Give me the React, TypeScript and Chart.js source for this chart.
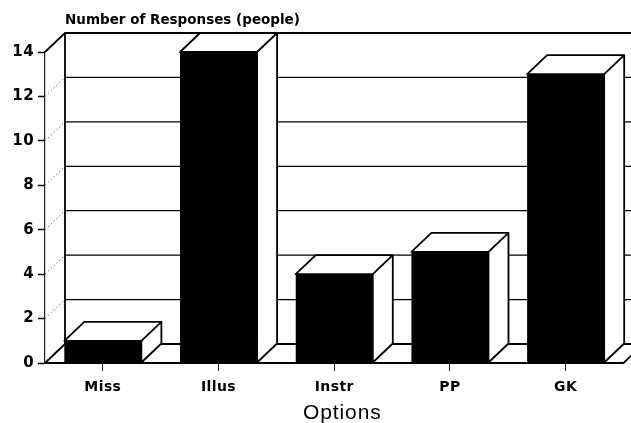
import React, { useEffect, useRef } from "react";
import { Chart, registerables } from "chart.js";

Chart.register(...registerables);

const categories = ["Miss", "Illus", "Instr", "PP", "GK"];
const responses = [1, 14, 4, 5, 13];
const yTitle = "Number of Responses (people)";
const xTitle = "Options";

const DEPTH_X = 20;
const DEPTH_Y = 19;
const INK = "#000";
const FONT = "'DejaVu Sans'";

const threeD = {
  id: "threeD",
  beforeDraw(chart: any) {
    chart.ctx.letterSpacing = "0.4px";
  },
  beforeDatasetsDraw(chart: any) {
    const { ctx, scales, chartArea, width } = chart;
    const y = scales.y;
    const left = chartArea.left;
    const top = y.getPixelForValue(14);
    const base = y.getPixelForValue(0);
    ctx.save();
    ctx.strokeStyle = INK;
    // dotted diagonals from the ticks to the back wall
    ctx.lineWidth = 1;
    ctx.setLineDash([1, 3]);
    ctx.strokeStyle = "#222";
    y.ticks.forEach((t: any) => {
      if (t.value === 0 || t.value === 14) return;
      const p = y.getPixelForValue(t.value);
      ctx.beginPath();
      ctx.moveTo(left, p);
      ctx.lineTo(left + DEPTH_X, p - DEPTH_Y);
      ctx.stroke();
    });
    ctx.setLineDash([]);
    ctx.strokeStyle = INK;
    // back wall grid lines
    y.ticks.forEach((t: any) => {
      if (t.value === 14) return;
      const p = y.getPixelForValue(t.value) - DEPTH_Y;
      ctx.lineWidth = t.value === 0 ? 1.8 : 1.3;
      ctx.beginPath();
      ctx.moveTo(left + DEPTH_X, p);
      ctx.lineTo(width, p);
      ctx.stroke();
    });
    // walls and outline
    ctx.lineWidth = 1.8;
    ctx.beginPath();
    ctx.moveTo(left, top);
    ctx.lineTo(left + DEPTH_X, top - DEPTH_Y);
    ctx.lineTo(width, top - DEPTH_Y);
    ctx.moveTo(left + DEPTH_X, top - DEPTH_Y);
    ctx.lineTo(left + DEPTH_X, base - DEPTH_Y);
    ctx.moveTo(left, base);
    ctx.lineTo(left + DEPTH_X, base - DEPTH_Y);
    ctx.moveTo(chartArea.right, base);
    ctx.lineTo(chartArea.right + DEPTH_X, base - DEPTH_Y);
    ctx.stroke();
    // extruded bar faces
    ctx.lineWidth = 1.8;
    ctx.lineJoin = "round";
    chart.getDatasetMeta(0).data.forEach((bar: any) => {
      const l = bar.x - bar.width / 2;
      const r = bar.x + bar.width / 2;
      const t = bar.y;
      const b = bar.base;
      ctx.fillStyle = "#fff";
      ctx.beginPath();
      ctx.moveTo(l, t);
      ctx.lineTo(l + DEPTH_X, t - DEPTH_Y);
      ctx.lineTo(r + DEPTH_X, t - DEPTH_Y);
      ctx.lineTo(r + DEPTH_X, b - DEPTH_Y);
      ctx.lineTo(r, b);
      ctx.lineTo(r, t);
      ctx.closePath();
      ctx.fill();
      ctx.stroke();
      ctx.beginPath();
      ctx.moveTo(r, t);
      ctx.lineTo(r + DEPTH_X, t - DEPTH_Y);
      ctx.stroke();
    });
    ctx.restore();
  },
  afterDraw(chart: any) {
    const { ctx } = chart;
    ctx.save();
    ctx.fillStyle = INK;
    ctx.textBaseline = "alphabetic";
    ctx.textAlign = "left";
    ctx.font = `bold 13.5px ${FONT}`;
    ctx.letterSpacing = "0px";
    ctx.fillText(yTitle, chart.chartArea.left + DEPTH_X, 24);
    ctx.font = "21px 'Liberation Sans'";
    ctx.letterSpacing = "0.9px";
    ctx.fillText(xTitle, 303, 419);
    ctx.restore();
  },
};

export default function App() {
  const ref = useRef<HTMLCanvasElement>(null);
  useEffect(() => {
    document.body.style.margin = "0";
    const chart = new Chart(ref.current as HTMLCanvasElement, {
      type: "bar",
      data: {
        labels: categories,
        datasets: [
          {
            data: responses,
            backgroundColor: INK,
            borderColor: INK,
            borderWidth: 0,
            categoryPercentage: 0.666,
            barPercentage: 1,
          },
        ],
      },
      plugins: [threeD],
      options: {
        responsive: false,
        animation: false,
        layout: { padding: { top: 52, right: 7.5, left: 0, bottom: 0 } },
        plugins: {
          legend: { display: false },
          tooltip: { enabled: false },
          title: { display: false },
        },
        scales: {
          x: {
            afterFit(s: any) {
              s.height = 60;
            },
            grid: {
              display: true,
              offset: false,
              drawOnChartArea: false,
              drawTicks: true,
              tickLength: 8,
              tickColor: "#222",
              tickWidth: 1,
            },
            border: { display: true, color: INK, width: 2 },
            ticks: {
              color: INK,
              padding: 8,
              maxRotation: 0,
              font: { family: FONT, size: 14, weight: "bold" },
            },
          },
          y: {
            min: 0,
            max: 14,
            afterFit(s: any) {
              s.width = 45;
            },
            ticks: {
              stepSize: 2,
              color: INK,
              padding: 4,
              font: { family: FONT, size: 15, weight: "bold" },
            },
            grid: {
              drawOnChartArea: false,
              drawTicks: true,
              tickLength: 7,
              tickColor: INK,
              tickWidth: 1.5,
            },
            border: { display: true, color: "#222", width: 1.2 },
          },
        },
      },
    } as any);
    return () => chart.destroy();
  }, []);
  return <canvas ref={ref} width={631} height={423} style={{ display: "block" }} />;
}
